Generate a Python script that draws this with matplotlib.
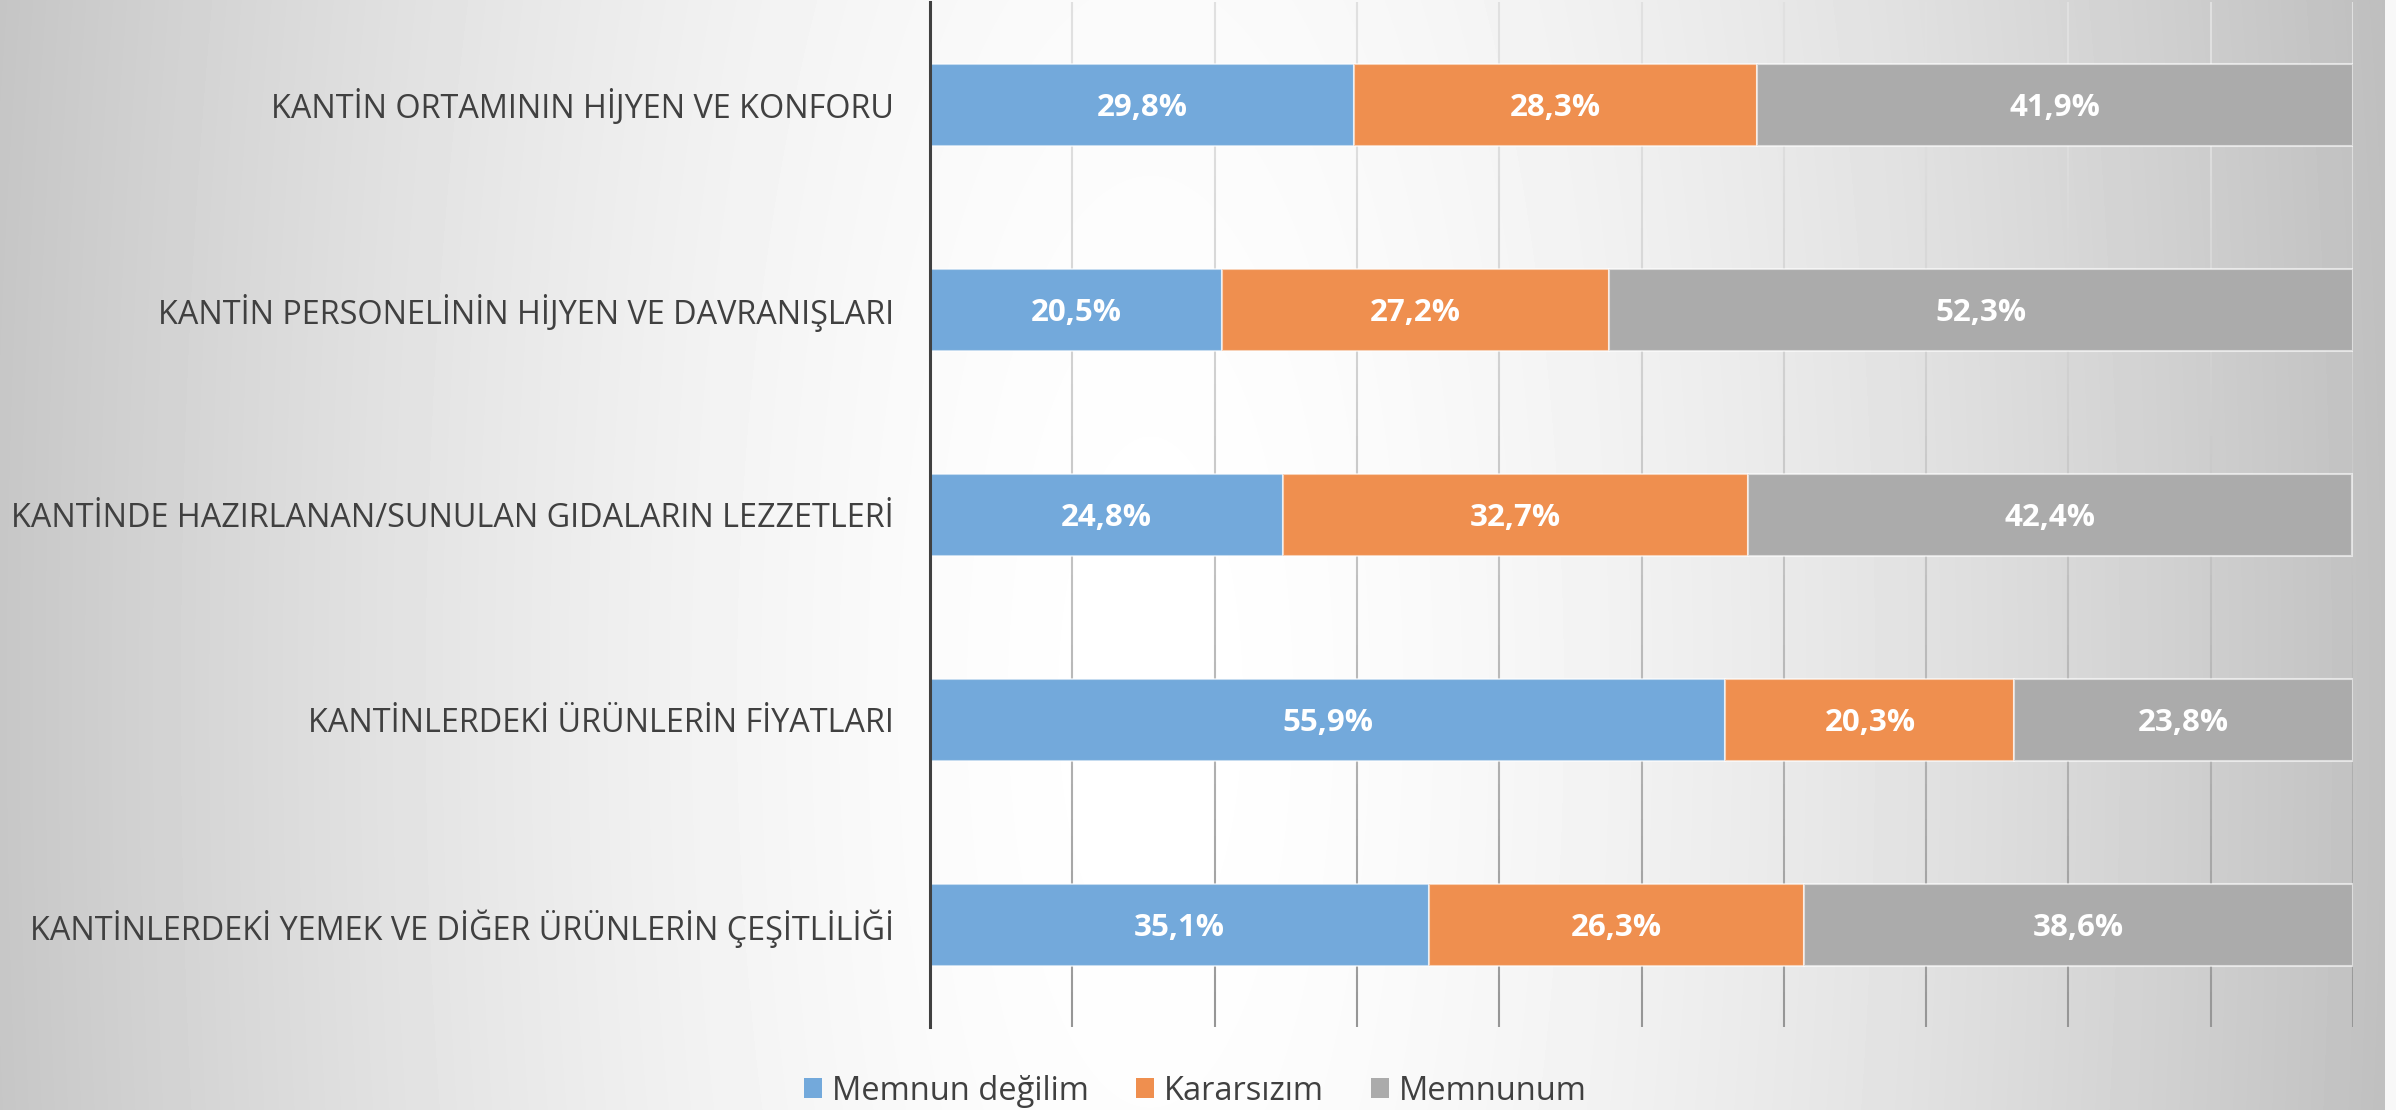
import numpy as np
import matplotlib
matplotlib.use("Agg")
import matplotlib.pyplot as plt
from matplotlib.patches import Patch
from matplotlib.collections import LineCollection

plt.rcParams['font.family'] = ['Open Sans', 'DejaVu Sans']

categories = [
    "KANTİN ORTAMININ HİJYEN VE KONFORU",
    "KANTİN PERSONELİNİN HİJYEN VE DAVRANIŞLARI",
    "KANTİNDE HAZIRLANAN/SUNULAN GIDALARIN LEZZETLERİ",
    "KANTİNLERDEKİ ÜRÜNLERİN FİYATLARI",
    "KANTİNLERDEKİ YEMEK VE DİĞER ÜRÜNLERİN ÇEŞİTLİLİĞİ",
]
memnun_degilim = [29.8, 20.5, 24.8, 55.9, 35.1]
kararsizim = [28.3, 27.2, 32.7, 20.3, 26.3]
memnunum = [41.9, 52.3, 42.4, 23.8, 38.6]

series_names = ["Memnun değilim", "Kararsızım", "Memnunum"]
colors = ["#73a9db", "#ef8f4f", "#ababab"]

W, H = 2396, 1110
fig = plt.figure(figsize=(W / 100, H / 100), dpi=100)

# slide-like background: light in the middle, grey towards the edges
bg_ax = fig.add_axes([0, 0, 1, 1], zorder=-10)
xx, yy = np.meshgrid(np.arange(W), np.arange(H))
d = np.sqrt((xx - 1150.0) ** 2 + ((yy - 700.0) * 0.35) ** 2)
shade = 255 - 63 * np.clip(d / 1234.0, 0, 1.1) ** 1.6
shade[:, 2385:] = 248
bg_ax.imshow(shade, cmap='gray', vmin=0, vmax=255, aspect='auto',
             interpolation='bilinear')
bg_ax.axis('off')

ax = fig.add_axes([930 / W, 1 - 1027 / H, (2353 - 930) / W, (1027 - 2) / H])
ax.set_facecolor('none')

y = np.arange(len(categories))
left = np.zeros(len(categories))
for vals, name, col in zip([memnun_degilim, kararsizim, memnunum], series_names, colors):
    bars = ax.barh(y, vals, left=left, height=0.4, color=col,
                   edgecolor=(1, 1, 1, 0.6), linewidth=1.5, zorder=3, label=name)
    for b, v in zip(bars, vals):
        ax.text(b.get_x() + b.get_width() / 2, b.get_y() + b.get_height() / 2,
                f"{v:.1f}%".replace('.', ','), ha='center', va='center_baseline',
                color='white', fontsize=22.5, fontweight='bold', zorder=4)
    left += np.array(vals)

ax.set_xlim(0, 100)
ax.set_ylim(len(categories) - 0.5, -0.5)

# vertical gridlines that darken towards the bottom
ys = np.linspace(-0.5, len(categories) - 0.5, 60)
for gx in np.arange(10, 101, 10):
    pts = np.array([[gx, v] for v in ys])
    segs = np.stack([pts[:-1], pts[1:]], axis=1)
    t = (ys[:-1] + 0.5) / len(categories)
    g = 0.88 - 0.30 * t ** 1.5
    lc = LineCollection(segs, colors=[(c, c, c) for c in g], linewidths=1.5, zorder=1)
    ax.add_collection(lc)

for s in ['top', 'right', 'bottom']:
    ax.spines[s].set_visible(False)
ax.spines['left'].set_color('#404040')
ax.spines['left'].set_linewidth(2.2)
ax.spines['left'].set_zorder(5)

ax.set_xticks([])
ax.set_yticks(y)
ax.set_yticklabels(categories, fontsize=23.3, color='#404040')
ax.tick_params(axis='y', length=0, pad=26)

handles = [Patch(facecolor=c, edgecolor='none') for c in colors]
fig.legend(handles, series_names, loc='center', bbox_to_anchor=(0.499, 0.017),
           ncol=3, frameon=False, fontsize=23.5, handlelength=0.55, handleheight=0.55,
           handletextpad=0.3, columnspacing=1.45, labelcolor='#404040')

fig.savefig('out.png', dpi=100)
